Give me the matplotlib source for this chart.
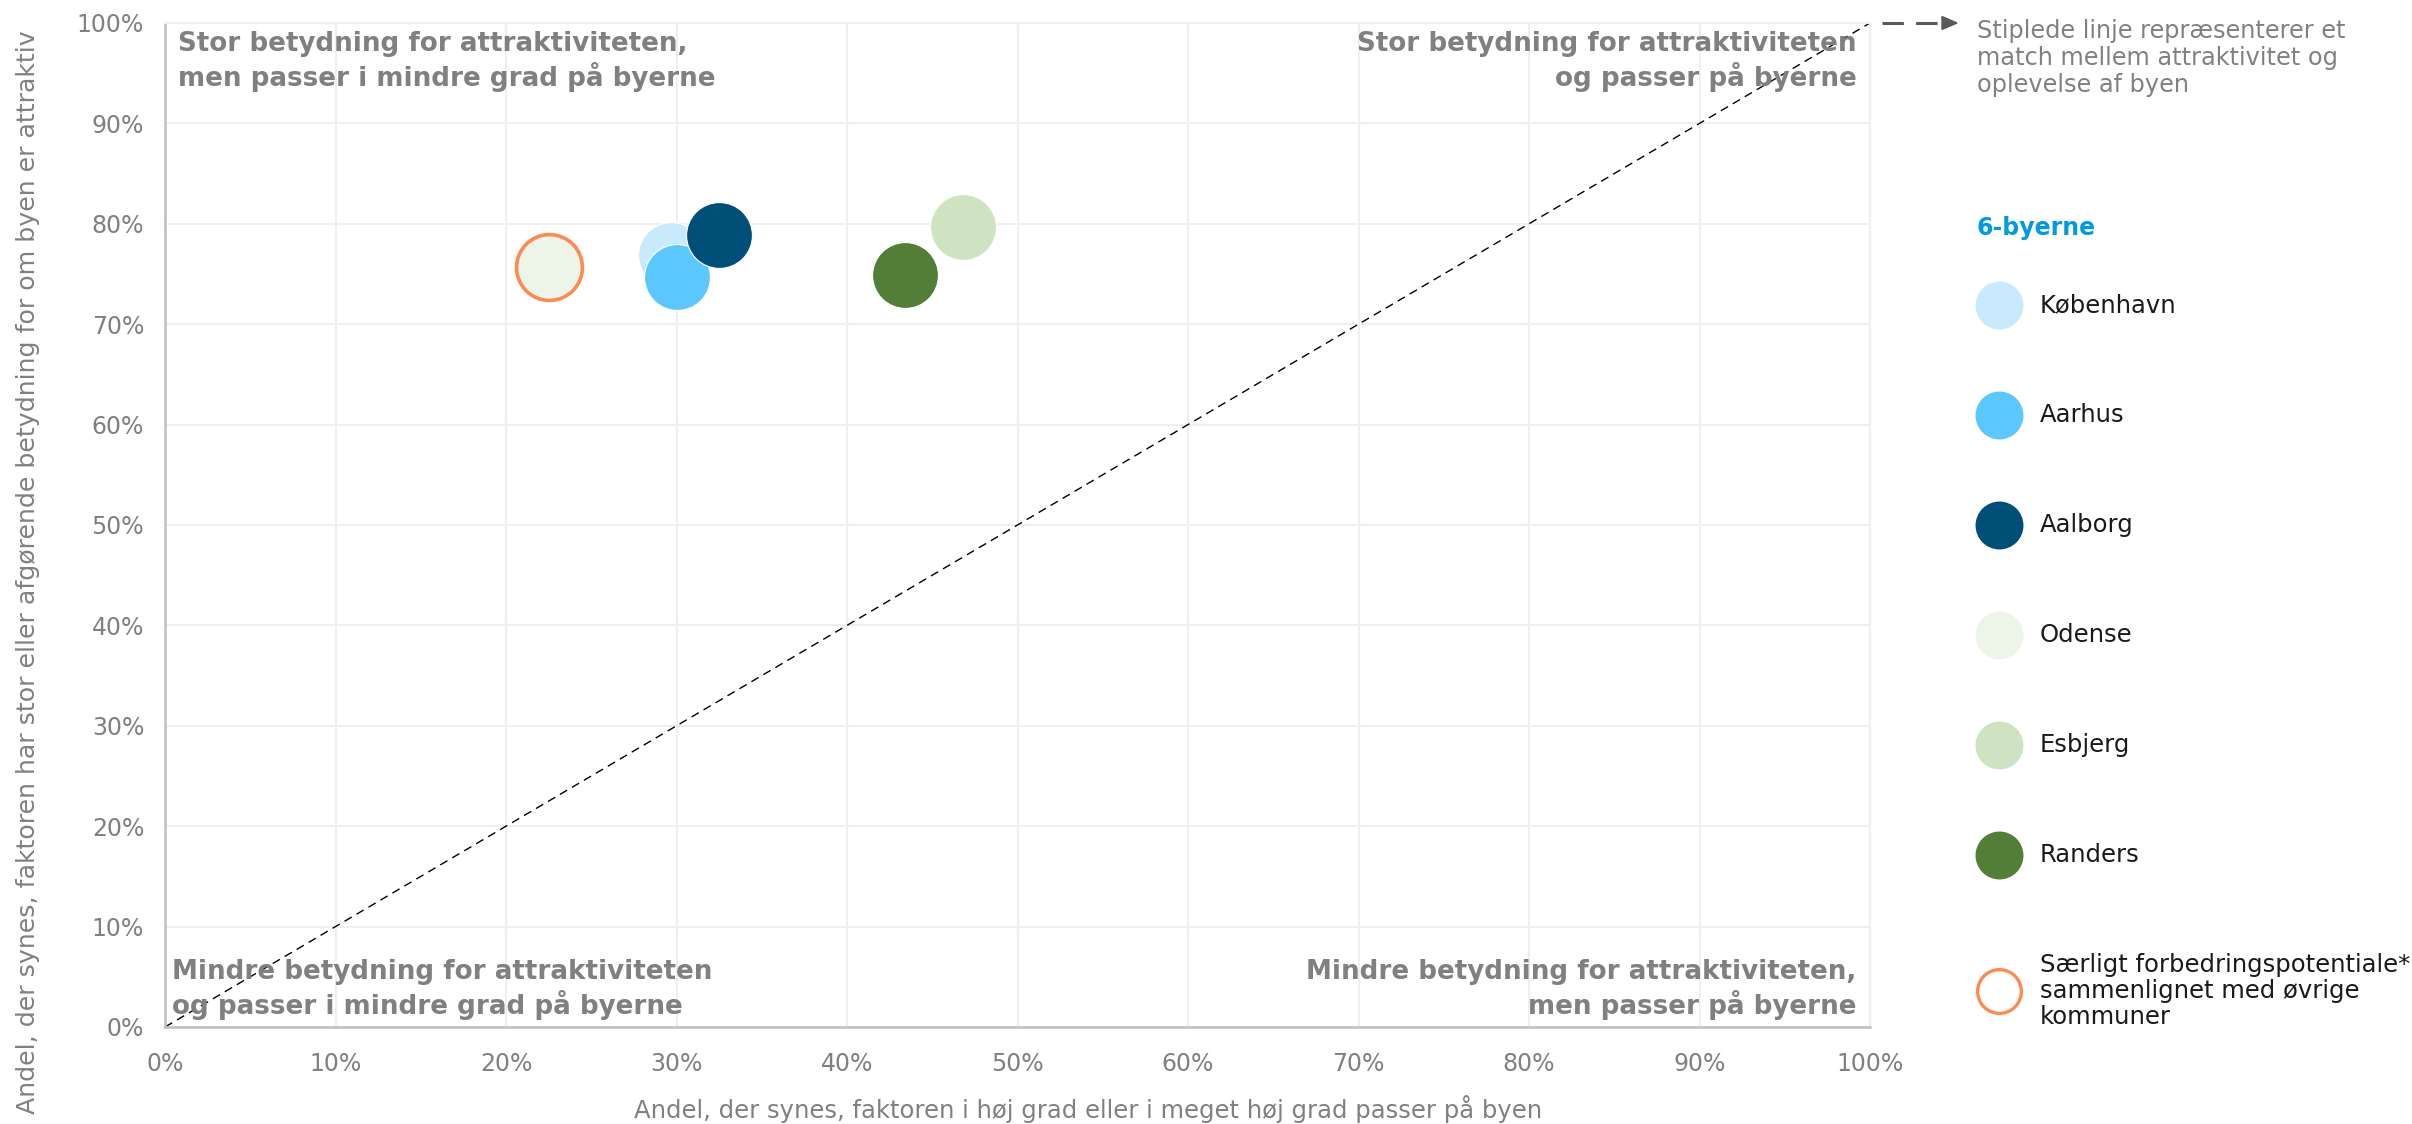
import matplotlib
matplotlib.use("Agg")
import matplotlib.pyplot as plt
from matplotlib.lines import Line2D
from matplotlib.patches import Polygon
from matplotlib.ticker import PercentFormatter

# ---------------- data ----------------
cities = ["København", "Aarhus", "Aalborg", "Odense", "Esbjerg", "Randers"]
passer = [29.7, 30.0, 32.5, 22.5, 46.8, 43.4]        # x: % faktoren passer på byen
betydning = [76.9, 74.7, 78.9, 75.7, 79.7, 74.9]     # y: % stor/afgørende betydning
colors = ["#C8EAFC", "#5BC7FF", "#004F79", "#EDF5E9", "#CFE3C3", "#537E37"]
highlight = ["Odense"]                                # særligt forbedringspotentiale
ticks = [0, 10, 20, 30, 40, 50, 60, 70, 80, 90, 100]

quad_tl = "Stor betydning for attraktiviteten,\nmen passer i mindre grad på byerne"
quad_tr = "Stor betydning for attraktiviteten\nog passer på byerne"
quad_bl = "Mindre betydning for attraktiviteten\nog passer i mindre grad på byerne"
quad_br = "Mindre betydning for attraktiviteten,\nmen passer på byerne"
xlabel = "Andel, der synes, faktoren i høj grad eller i meget høj grad passer på byen"
ylabel = "Andel, der synes, faktoren har stor eller afgørende betydning for om byen er attraktiv"
note = "Stiplede linje repræsenterer et\nmatch mellem attraktivitet og\noplevelse af byen"
legend_title = "6-byerne"
special_label = "Særligt forbedringspotentiale*\nsammenlignet med øvrige\nkommuner"

# ---------------- style ----------------
W, H = 2412, 1124
GRAY = "#808080"
ORANGE = "#FF8A50"
plt.rcParams["font.family"] = ["DejaVu Sans"]

fig = plt.figure(figsize=(W / 100, H / 100), dpi=100)
ax = fig.add_axes([165 / W, 1 - 1027 / H, (1870 - 165) / W, (1027 - 23) / H])

ax.set_xlim(0, 100)
ax.set_ylim(0, 100)
ax.set_xticks(ticks)
ax.set_yticks(ticks)
ax.xaxis.set_major_formatter(PercentFormatter(decimals=0))
ax.yaxis.set_major_formatter(PercentFormatter(decimals=0))
ax.tick_params(axis="both", length=0, labelsize=17, labelcolor=GRAY)
ax.tick_params(axis="x", pad=18)
ax.tick_params(axis="y", pad=15)
ax.grid(True, color="#EFEFEF", lw=1.5, zorder=0)
ax.set_axisbelow(True)
for side in ["top", "right"]:
    ax.spines[side].set_color("#EFEFEF")
    ax.spines[side].set_linewidth(1.5)
for side in ["left", "bottom"]:
    ax.spines[side].set_color("#BFBFBF")
    ax.spines[side].set_linewidth(1.8)

# diagonal match line
ax.plot([0, 100], [0, 100], color="black", lw=1.0, ls=(0, (6, 4)), zorder=2, clip_on=False)

# bubbles
S = 2250
for name, xv, yv, c in zip(cities, passer, betydning, colors):
    if name in highlight:
        ax.scatter(xv, yv, s=S, color=c, edgecolor=ORANGE, linewidth=2.6, zorder=3)
    else:
        ax.scatter(xv, yv, s=S, color=c, edgecolor="white", linewidth=0.8, zorder=3)

# quadrant texts
qkw = dict(fontsize=18.8, fontweight="bold", color=GRAY, transform=ax.transAxes,
           zorder=4, linespacing=1.2)
ax.text(0.0074, 0.992, quad_tl, ha="left", va="top", **qkw)
ax.text(0.992, 0.992, quad_tr, ha="right", va="top", multialignment="right", **qkw)
ax.text(0.004, 0.007, quad_bl, ha="left", va="bottom", **qkw)
ax.text(0.992, 0.007, quad_br, ha="right", va="bottom", multialignment="right", **qkw)

# axis labels
fig.text(1088 / W, 1 - 1109 / H, xlabel, ha="center", va="center", fontsize=17.5, color=GRAY)
fig.text(28 / W, 1 - 572 / H, ylabel, ha="center", va="center", rotation=90, fontsize=18.2, color=GRAY)

# dashed arrow + note
def fx(px):
    return px / W

def fy(py):
    return 1 - py / H

fig.add_artist(Line2D([fx(1882), fx(1944)], [fy(23), fy(23)], color="#595959", lw=2.2,
                      ls=(0, (7, 4)), transform=fig.transFigure))
fig.add_artist(Polygon([[fx(1942), fy(16.5)], [fx(1942), fy(29.5)], [fx(1957), fy(23)]],
                       closed=True, color="#595959", transform=fig.transFigure))
fig.text(fx(1977), fy(19), note, ha="left", va="top", fontsize=17.3, color=GRAY, linespacing=1.17)

# legend (manual)
fig.text(fx(1977), fy(228), legend_title, ha="left", va="center", fontsize=17,
         fontweight="bold", color="#0099E6")
leg_y = [305, 415, 525, 635, 745, 855]
for name, c, yy in zip(cities, colors, leg_y):
    fig.add_artist(Line2D([fx(1999)], [fy(yy)], marker="o", markersize=33.5, ls="",
                          markerfacecolor=c, markeredgecolor=c, transform=fig.transFigure))
    fig.text(fx(2040), fy(yy), name, ha="left", va="center", fontsize=17.5, color="#1A1A1A")
fig.add_artist(Line2D([fx(1999)], [fy(991)], marker="o", markersize=31.5, ls="",
                      markerfacecolor="white", markeredgecolor=ORANGE, markeredgewidth=2.4,
                      transform=fig.transFigure))
fig.text(fx(2040), fy(991), special_label, ha="left", va="center", fontsize=17.5,
         color="#1A1A1A", linespacing=1.12)

fig.savefig("out.png", dpi=100)
